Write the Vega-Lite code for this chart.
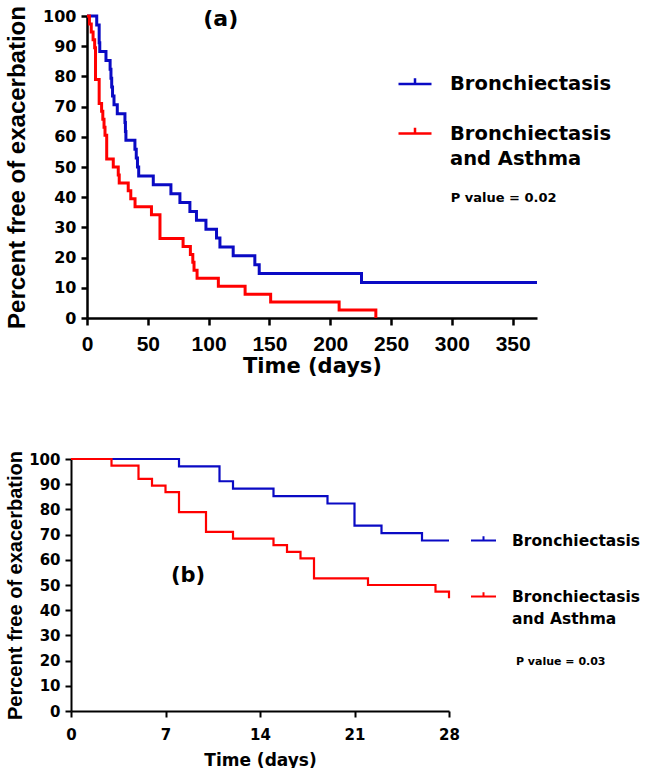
{
  "$schema": "https://vega.github.io/schema/vega-lite/v6.json",
  "background": "white",
  "padding": {"left": 4, "top": 5, "right": 0, "bottom": 0},
  "config": {
    "view": {"stroke": null},
    "axis": {"grid": false, "domainColor": "black", "tickColor": "black", "labelColor": "black", "titleColor": "black", "labelFontWeight": "bold", "titleFontWeight": "bold", "labelFont": "DejaVu Sans", "titleFont": "DejaVu Sans", "labelOverlap": false}
  },
  "datasets": {
    "km": [
      {"panel": "a", "group": "Bronchiectasis", "day": 0, "pct": 100},
      {"panel": "a", "group": "Bronchiectasis", "day": 8, "pct": 97.06},
      {"panel": "a", "group": "Bronchiectasis", "day": 10, "pct": 91.18},
      {"panel": "a", "group": "Bronchiectasis", "day": 10.5, "pct": 88.24},
      {"panel": "a", "group": "Bronchiectasis", "day": 15.6, "pct": 85.29},
      {"panel": "a", "group": "Bronchiectasis", "day": 19, "pct": 82.35},
      {"panel": "a", "group": "Bronchiectasis", "day": 19.7, "pct": 79.41},
      {"panel": "a", "group": "Bronchiectasis", "day": 20.3, "pct": 76.47},
      {"panel": "a", "group": "Bronchiectasis", "day": 21, "pct": 73.53},
      {"panel": "a", "group": "Bronchiectasis", "day": 22.2, "pct": 70.59},
      {"panel": "a", "group": "Bronchiectasis", "day": 24.9, "pct": 67.65},
      {"panel": "a", "group": "Bronchiectasis", "day": 31.2, "pct": 64.71},
      {"panel": "a", "group": "Bronchiectasis", "day": 31.6, "pct": 61.76},
      {"panel": "a", "group": "Bronchiectasis", "day": 32, "pct": 58.82},
      {"panel": "a", "group": "Bronchiectasis", "day": 39.4, "pct": 55.88},
      {"panel": "a", "group": "Bronchiectasis", "day": 40.5, "pct": 52.94},
      {"panel": "a", "group": "Bronchiectasis", "day": 41.5, "pct": 50},
      {"panel": "a", "group": "Bronchiectasis", "day": 42.5, "pct": 47.06},
      {"panel": "a", "group": "Bronchiectasis", "day": 54.5, "pct": 44.12},
      {"panel": "a", "group": "Bronchiectasis", "day": 69, "pct": 41.18},
      {"panel": "a", "group": "Bronchiectasis", "day": 76.4, "pct": 38.24},
      {"panel": "a", "group": "Bronchiectasis", "day": 84.6, "pct": 35.29},
      {"panel": "a", "group": "Bronchiectasis", "day": 90, "pct": 32.35},
      {"panel": "a", "group": "Bronchiectasis", "day": 97.8, "pct": 29.41},
      {"panel": "a", "group": "Bronchiectasis", "day": 106.5, "pct": 26.47},
      {"panel": "a", "group": "Bronchiectasis", "day": 109.3, "pct": 23.53},
      {"panel": "a", "group": "Bronchiectasis", "day": 120.2, "pct": 20.59},
      {"panel": "a", "group": "Bronchiectasis", "day": 138, "pct": 17.65},
      {"panel": "a", "group": "Bronchiectasis", "day": 141.6, "pct": 14.71},
      {"panel": "a", "group": "Bronchiectasis", "day": 225.7, "pct": 11.76},
      {"panel": "a", "group": "Bronchiectasis", "day": 370, "pct": 11.76},
      {"panel": "a", "group": "Bronchiectasis and Asthma", "day": 0, "pct": 100},
      {"panel": "a", "group": "Bronchiectasis and Asthma", "day": 2, "pct": 97.37},
      {"panel": "a", "group": "Bronchiectasis and Asthma", "day": 3.5, "pct": 94.74},
      {"panel": "a", "group": "Bronchiectasis and Asthma", "day": 5, "pct": 92.11},
      {"panel": "a", "group": "Bronchiectasis and Asthma", "day": 6.3, "pct": 89.47},
      {"panel": "a", "group": "Bronchiectasis and Asthma", "day": 7, "pct": 78.95},
      {"panel": "a", "group": "Bronchiectasis and Asthma", "day": 10, "pct": 71.05},
      {"panel": "a", "group": "Bronchiectasis and Asthma", "day": 12, "pct": 68.42},
      {"panel": "a", "group": "Bronchiectasis and Asthma", "day": 13, "pct": 65.79},
      {"panel": "a", "group": "Bronchiectasis and Asthma", "day": 14, "pct": 63.16},
      {"panel": "a", "group": "Bronchiectasis and Asthma", "day": 14.8, "pct": 60.53},
      {"panel": "a", "group": "Bronchiectasis and Asthma", "day": 16.2, "pct": 52.63},
      {"panel": "a", "group": "Bronchiectasis and Asthma", "day": 21.6, "pct": 50},
      {"panel": "a", "group": "Bronchiectasis and Asthma", "day": 25.7, "pct": 47.37},
      {"panel": "a", "group": "Bronchiectasis and Asthma", "day": 26.5, "pct": 44.74},
      {"panel": "a", "group": "Bronchiectasis and Asthma", "day": 33.9, "pct": 42.11},
      {"panel": "a", "group": "Bronchiectasis and Asthma", "day": 36, "pct": 39.47},
      {"panel": "a", "group": "Bronchiectasis and Asthma", "day": 39.5, "pct": 36.84},
      {"panel": "a", "group": "Bronchiectasis and Asthma", "day": 53, "pct": 34.21},
      {"panel": "a", "group": "Bronchiectasis and Asthma", "day": 60, "pct": 26.32},
      {"panel": "a", "group": "Bronchiectasis and Asthma", "day": 79, "pct": 23.68},
      {"panel": "a", "group": "Bronchiectasis and Asthma", "day": 85, "pct": 21.05},
      {"panel": "a", "group": "Bronchiectasis and Asthma", "day": 87, "pct": 18.42},
      {"panel": "a", "group": "Bronchiectasis and Asthma", "day": 88, "pct": 15.79},
      {"panel": "a", "group": "Bronchiectasis and Asthma", "day": 90.5, "pct": 13.16},
      {"panel": "a", "group": "Bronchiectasis and Asthma", "day": 108, "pct": 10.53},
      {"panel": "a", "group": "Bronchiectasis and Asthma", "day": 130, "pct": 7.89},
      {"panel": "a", "group": "Bronchiectasis and Asthma", "day": 151, "pct": 5.26},
      {"panel": "a", "group": "Bronchiectasis and Asthma", "day": 207.3, "pct": 2.63},
      {"panel": "a", "group": "Bronchiectasis and Asthma", "day": 237.5, "pct": 0},
      {"panel": "b", "group": "Bronchiectasis", "day": 0, "pct": 100},
      {"panel": "b", "group": "Bronchiectasis", "day": 8, "pct": 97.06},
      {"panel": "b", "group": "Bronchiectasis", "day": 11, "pct": 91.18},
      {"panel": "b", "group": "Bronchiectasis", "day": 12, "pct": 88.24},
      {"panel": "b", "group": "Bronchiectasis", "day": 15, "pct": 85.29},
      {"panel": "b", "group": "Bronchiectasis", "day": 19, "pct": 82.35},
      {"panel": "b", "group": "Bronchiectasis", "day": 21, "pct": 73.53},
      {"panel": "b", "group": "Bronchiectasis", "day": 23, "pct": 70.59},
      {"panel": "b", "group": "Bronchiectasis", "day": 26, "pct": 67.65},
      {"panel": "b", "group": "Bronchiectasis", "day": 28, "pct": 67.65},
      {"panel": "b", "group": "Bronchiectasis and Asthma", "day": 0, "pct": 100},
      {"panel": "b", "group": "Bronchiectasis and Asthma", "day": 3, "pct": 97.37},
      {"panel": "b", "group": "Bronchiectasis and Asthma", "day": 5, "pct": 92.11},
      {"panel": "b", "group": "Bronchiectasis and Asthma", "day": 6, "pct": 89.47},
      {"panel": "b", "group": "Bronchiectasis and Asthma", "day": 7, "pct": 86.84},
      {"panel": "b", "group": "Bronchiectasis and Asthma", "day": 8, "pct": 78.95},
      {"panel": "b", "group": "Bronchiectasis and Asthma", "day": 10, "pct": 71.05},
      {"panel": "b", "group": "Bronchiectasis and Asthma", "day": 12, "pct": 68.42},
      {"panel": "b", "group": "Bronchiectasis and Asthma", "day": 15, "pct": 65.79},
      {"panel": "b", "group": "Bronchiectasis and Asthma", "day": 16, "pct": 63.16},
      {"panel": "b", "group": "Bronchiectasis and Asthma", "day": 17, "pct": 60.53},
      {"panel": "b", "group": "Bronchiectasis and Asthma", "day": 18, "pct": 52.63},
      {"panel": "b", "group": "Bronchiectasis and Asthma", "day": 22, "pct": 50},
      {"panel": "b", "group": "Bronchiectasis and Asthma", "day": 27, "pct": 47.37},
      {"panel": "b", "group": "Bronchiectasis and Asthma", "day": 28, "pct": 44.74}
    ]
  },
  "spacing": 74,
  "resolve": {"scale": {"color": "independent"}, "legend": {"color": "independent"}},
  "vconcat": [
    {
      "spacing": 0,
      "resolve": {"scale": {"color": "independent"}, "legend": {"color": "independent"}},
      "hconcat": [
        {"width": 1, "height": 1, "data": {"values": []}, "mark": "point"},
        {
          "width": 450,
          "height": 302,
          "layer": [
            {
              "data": {"name": "km"},
              "transform": [{"filter": "datum.panel == 'a'"}],
              "mark": {"type": "line", "interpolate": "step-after", "strokeWidth": 3},
              "encoding": {
                "x": {"field": "day", "type": "quantitative", "scale": {"domain": [0, 370], "nice": false},
                  "axis": {"values": [0, 50, 100, 150, 200, 250, 300, 350], "tickCount": 20, "title": "Time (days)", "labelFont": "Liberation Sans", "labelFontSize": 21, "titleFontSize": 21, "tickSize": 7, "tickWidth": 2.5, "domainWidth": 2.5, "labelPadding": 8, "titlePadding": 1, "labelFlush": false, "labelOverlap": false}},
                "y": {"field": "pct", "type": "quantitative", "scale": {"domain": [0, 100], "nice": false},
                  "axis": {"values": [0, 10, 20, 30, 40, 50, 60, 70, 80, 90, 100], "tickCount": 20, "title": "Percent free of exacerbation", "titleFont": "Liberation Sans", "labelFontSize": 16, "titleFontSize": 24, "tickSize": 6, "tickWidth": 2.5, "domainWidth": 2.5, "labelPadding": 5, "titlePadding": 13, "labelFlush": false, "labelOverlap": false}},
                "color": {"field": "group", "type": "nominal",
                  "scale": {"domain": ["Bronchiectasis", "Bronchiectasis and Asthma"], "range": ["#0A0AC4", "#FF0000"]},
                  "legend": {"orient": "none", "legendX": 310, "legendY": 50, "title": null,
                    "symbolType": "M-1,0H1M0,0V-0.35", "symbolSize": 1089, "symbolStrokeWidth": 2.5,
                    "labelFont": "DejaVu Sans", "labelFontSize": 19.5, "labelFontWeight": "bold", "labelColor": "black",
                    "labelOffset": 17, "rowPadding": 21.5, "labelLimit": 300,
                    "labelExpr": "datum.label == 'Bronchiectasis and Asthma' ? ['Bronchiectasis', 'and Asthma'] : datum.label",
                    "encode": {"labels": {"update": {"lineHeight": {"value": 25}}}}}}
              }
            },
            {
              "data": {"values": [{"note": "(a)"}]},
              "mark": {"type": "text", "font": "DejaVu Sans", "fontWeight": "bold", "fontSize": 22, "align": "center", "baseline": "middle", "color": "black"},
              "encoding": {"x": {"datum": 110, "type": "quantitative"}, "y": {"datum": 99, "type": "quantitative"}, "text": {"field": "note"}}
            },
            {
              "data": {"values": [{"note": "P value = 0.02"}]},
              "mark": {"type": "text", "font": "DejaVu Sans", "fontWeight": "bold", "fontSize": 13, "align": "left", "baseline": "middle", "color": "black"},
              "encoding": {"x": {"datum": 299, "type": "quantitative"}, "y": {"datum": 39.7, "type": "quantitative"}, "text": {"field": "note"}}
            }
          ]
        }
      ]
    },
    {
      "spacing": 0,
      "resolve": {"scale": {"color": "independent"}, "legend": {"color": "independent"}},
      "hconcat": [
        {"width": 1, "height": 1, "data": {"values": []}, "mark": "point"},
        {
          "width": 378,
          "height": 252,
          "layer": [
            {
              "data": {"name": "km"},
              "transform": [{"filter": "datum.panel == 'b'"}],
              "mark": {"type": "line", "interpolate": "step-after", "strokeWidth": 2.2},
              "encoding": {
                "x": {"field": "day", "type": "quantitative", "scale": {"domain": [0, 28], "nice": false},
                  "axis": {"values": [0, 7, 14, 21, 28], "tickCount": 20, "title": "Time (days)", "labelFontSize": 15, "titleFontSize": 17, "tickSize": 6, "tickWidth": 2, "domainWidth": 2, "labelPadding": 10, "titlePadding": 10, "labelFlush": false, "labelOverlap": false}},
                "y": {"field": "pct", "type": "quantitative", "scale": {"domain": [0, 100], "nice": false},
                  "axis": {"values": [0, 10, 20, 30, 40, 50, 60, 70, 80, 90, 100], "tickCount": 20, "title": "Percent free of exacerbation", "titleFont": "Liberation Sans", "labelFontSize": 15, "titleFontSize": 20, "tickSize": 6, "tickWidth": 2, "domainWidth": 2, "labelPadding": 5, "titlePadding": 3, "labelFlush": false, "labelOverlap": false}},
                "color": {"field": "group", "type": "nominal",
                  "scale": {"domain": ["Bronchiectasis", "Bronchiectasis and Asthma"], "range": ["#0A0AC4", "#FF0000"]},
                  "legend": {"orient": "none", "legendX": 399, "legendY": 68, "title": null,
                    "symbolType": "M-1,0H1M0,0V-0.35", "symbolSize": 625, "symbolStrokeWidth": 2,
                    "labelFont": "DejaVu Sans", "labelFontSize": 15.5, "labelFontWeight": "bold", "labelColor": "black",
                    "labelOffset": 15, "rowPadding": 34, "labelLimit": 300,
                    "labelExpr": "datum.label == 'Bronchiectasis and Asthma' ? ['Bronchiectasis', 'and Asthma'] : datum.label",
                    "encode": {"labels": {"update": {"lineHeight": {"value": 22}}}}}}
              }
            },
            {
              "data": {"values": [{"note": "(b)"}]},
              "mark": {"type": "text", "font": "DejaVu Sans", "fontWeight": "bold", "fontSize": 21, "align": "center", "baseline": "middle", "color": "black"},
              "encoding": {"x": {"datum": 8.67, "type": "quantitative"}, "y": {"datum": 53.6, "type": "quantitative"}, "text": {"field": "note"}}
            },
            {
              "data": {"values": [{"note": "P value = 0.03"}]},
              "mark": {"type": "text", "font": "DejaVu Sans", "fontWeight": "bold", "fontSize": 11, "align": "left", "baseline": "middle", "color": "black"},
              "encoding": {"x": {"datum": 32.96, "type": "quantitative"}, "y": {"datum": 19.4, "type": "quantitative"}, "text": {"field": "note"}}
            }
          ]
        }
      ]
    }
  ]
}
